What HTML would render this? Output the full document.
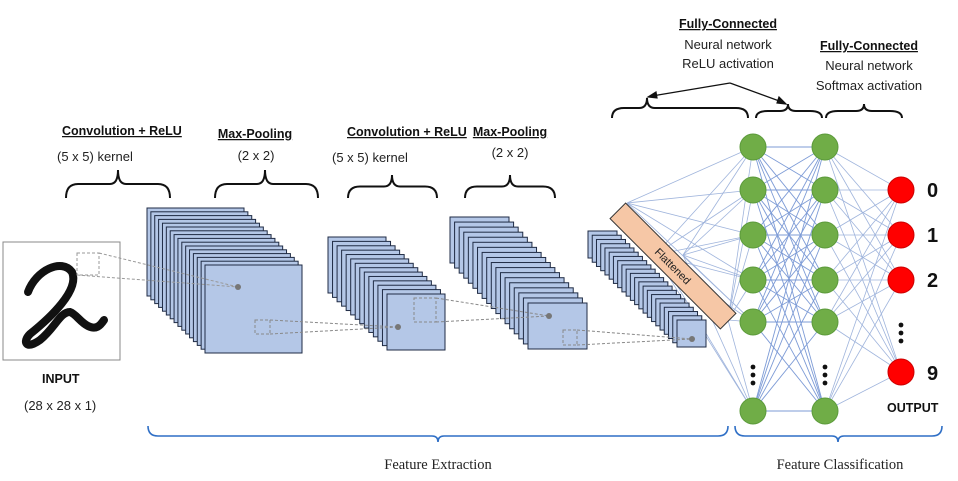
<!DOCTYPE html>
<html><head><meta charset="utf-8"><style>
html,body{margin:0;padding:0;background:#fff;}
svg{display:block;}
.b{font-family:"Liberation Sans",sans-serif;font-weight:bold;font-size:12.5px;text-decoration:underline;fill:#111;}
.n{font-family:"Liberation Sans",sans-serif;font-size:13px;fill:#222;}
.s{font-family:"Liberation Serif",serif;font-size:14.5px;fill:#222;}
</style></head><body>
<svg id="s" width="958" height="481" viewBox="0 0 958 481" xmlns="http://www.w3.org/2000/svg">
<g id="net" stroke="#9fb4dc" stroke-width="0.8" fill="none"></g>
<g id="stacks"></g>
<rect x="3" y="242" width="117" height="118" fill="#fff" stroke="#888" stroke-width="1"/>
<path d="M28,292 C36,270 62,258 72,272 C80,290 50,318 30,334 C22,342 26,350 40,340 C55,328 60,312 70,312 C76,314 80,322 88,326 C96,330 100,326 104,320" fill="none" stroke="#111" stroke-width="8" stroke-linecap="round"/>
<g stroke="#999" stroke-width="1" stroke-dasharray="3,2" fill="none">
<rect x="77" y="253" width="22" height="22"/>
<line x1="99" y1="253" x2="238" y2="287"/><line x1="77" y1="275" x2="238" y2="287"/>
</g>
<g id="over"></g>
<g transform="translate(673,266) rotate(45)">
<rect x="-78" y="-11" width="156" height="22" fill="#f6c7a6" stroke="#333" stroke-width="1"/>
<text x="0" y="4" text-anchor="middle" class="n" style="font-size:11px">Flattened</text>
</g>
<g id="nodes"></g>
<text x="62" y="135" class="b">Convolution + ReLU</text>
<text x="57" y="161" class="n">(5 x 5) kernel</text>
<text x="255" y="138" class="b" text-anchor="middle">Max-Pooling</text>
<text x="256" y="160" class="n" text-anchor="middle">(2 x 2)</text>
<text x="347" y="136" class="b">Convolution + ReLU</text>
<text x="332" y="162" class="n">(5 x 5) kernel</text>
<text x="510" y="136" class="b" text-anchor="middle">Max-Pooling</text>
<text x="510" y="157" class="n" text-anchor="middle">(2 x 2)</text>
<text x="728" y="28" class="b" text-anchor="middle">Fully-Connected</text>
<text x="728" y="49" class="n" text-anchor="middle">Neural network</text>
<text x="728" y="68" class="n" text-anchor="middle">ReLU activation</text>
<text x="869" y="50" class="b" text-anchor="middle">Fully-Connected</text>
<text x="869" y="70" class="n" text-anchor="middle">Neural network</text>
<text x="869" y="90" class="n" text-anchor="middle">Softmax activation</text>
<g stroke="#111" stroke-width="1.2" fill="#111">
<line x1="730" y1="83" x2="652" y2="96"/><polygon points="648,97 656,92 657,98"/>
<line x1="730" y1="83" x2="782" y2="102"/><polygon points="786,104 777,103 779,97"/>
</g>
<text x="42" y="383" class="b" style="text-decoration:none">INPUT</text>
<text x="24" y="410" class="n">(28 x 28 x 1)</text>
<text x="887" y="412" class="b" style="text-decoration:none">OUTPUT</text>
<g font-family="Liberation Sans,sans-serif" font-weight="bold" font-size="20" fill="#111">
<text x="927" y="197">0</text><text x="927" y="242">1</text><text x="927" y="287">2</text><text x="927" y="380">9</text>
</g>
<text x="438" y="469" class="s" text-anchor="middle">Feature Extraction</text>
<text x="840" y="469" class="s" text-anchor="middle">Feature Classification</text>
<g id="braces" fill="none" stroke="#111" stroke-width="2"></g>
</svg>
<script>
var NS="http://www.w3.org/2000/svg";
function el(p,t,a){var e=document.createElementNS(NS,t);for(var k in a)e.setAttribute(k,a[k]);document.getElementById(p).appendChild(e);return e;}
function stack(bx,by,fx,fy,w,h,n){for(var i=0;i<n;i++){var x=bx+(fx-bx)*i/(n-1),y=by+(fy-by)*i/(n-1);el("stacks","rect",{x:x,y:y,width:w,height:h,fill:"#b4c7e7",stroke:"#1f2b44","stroke-width":1});}}
stack(147,208,205,265,97,88,16);
stack(328,237,387,294,58,56,14);
stack(450,217,528,303,59,46,18);
stack(588,231,677,320,29,27,22);
var d={stroke:"#888","stroke-width":1,"stroke-dasharray":"3,2",fill:"none"};
function dl(x1,y1,x2,y2){el("over","line",Object.assign({x1:x1,y1:y1,x2:x2,y2:y2},d));}
function dr(x,y,w,h){el("over","rect",Object.assign({x:x,y:y,width:w,height:h},d));}
dr(255,320,15,14);dl(270,320,398,327);dl(270,334,398,327);
dr(414,298,22,24);dl(436,298,549,316);dl(436,322,549,316);
dr(563,330,14,15);dl(577,330,692,339);dl(577,345,692,339);
[[238,287],[398,327],[549,316],[692,339]].forEach(function(p){el("over","circle",{cx:p[0],cy:p[1],r:3,fill:"#777"});});
var c1=[147,190,235,280,322,411],c2=c1,out=[190,235,280,372];
var src=[[627,203],[655,255],[683,255],[728,320]];
src.forEach(function(s){c1.forEach(function(y){el("net","line",{x1:s[0],y1:s[1],x2:753,y2:y});});});
c1.forEach(function(a){c2.forEach(function(b){el("net","line",{x1:753,y1:a,x2:825,y2:b,stroke:"#7d9bd6","stroke-width":0.9});});});
c2.forEach(function(a){out.forEach(function(b){el("net","line",{x1:825,y1:a,x2:901,y2:b});});});
c1.forEach(function(y){el("nodes","circle",{cx:753,cy:y,r:13,fill:"#70ad47",stroke:"#5b9a3a","stroke-width":1});el("nodes","circle",{cx:825,cy:y,r:13,fill:"#70ad47",stroke:"#5b9a3a","stroke-width":1});});
out.forEach(function(y){el("nodes","circle",{cx:901,cy:y,r:13,fill:"#f00",stroke:"#c00","stroke-width":1});});
[[753,367],[825,367],[901,325]].forEach(function(p){for(var i=0;i<3;i++)el("nodes","circle",{cx:p[0],cy:p[1]+i*8,r:2.4,fill:"#111"});});
function brace(x1,x2,tx,yt,yb,col){var m=(yt+yb)/2;el("braces","path",{d:"M"+x1+","+yb+" Q"+x1+","+m+" "+(x1+12)+","+m+" L"+(tx-8)+","+m+" Q"+tx+","+m+" "+tx+","+yt+" Q"+tx+","+m+" "+(tx+8)+","+m+" L"+(x2-12)+","+m+" Q"+x2+","+m+" "+x2+","+yb,stroke:col||"#111"});}
brace(66,170,118,170,198);brace(215,318,265,170,198);brace(348,437,392,175,198);brace(465,555,510,175,198);
brace(612,748,647,98,118);brace(756,822,788,104,118);brace(826,902,864,104,118);
function bbrace(x1,x2,tx,y){var m=y+6;el("braces","path",{d:"M"+x1+","+(y-4)+" Q"+x1+","+m+" "+(x1+10)+","+m+" L"+(tx-6)+","+m+" Q"+tx+","+m+" "+tx+","+(m+6)+" Q"+tx+","+m+" "+(tx+6)+","+m+" L"+(x2-10)+","+m+" Q"+x2+","+m+" "+x2+","+(y-4),stroke:"#2f6fc6","stroke-width":1.6});}
bbrace(148,728,438,430);bbrace(735,942,838,430);
</script>
</body></html>
